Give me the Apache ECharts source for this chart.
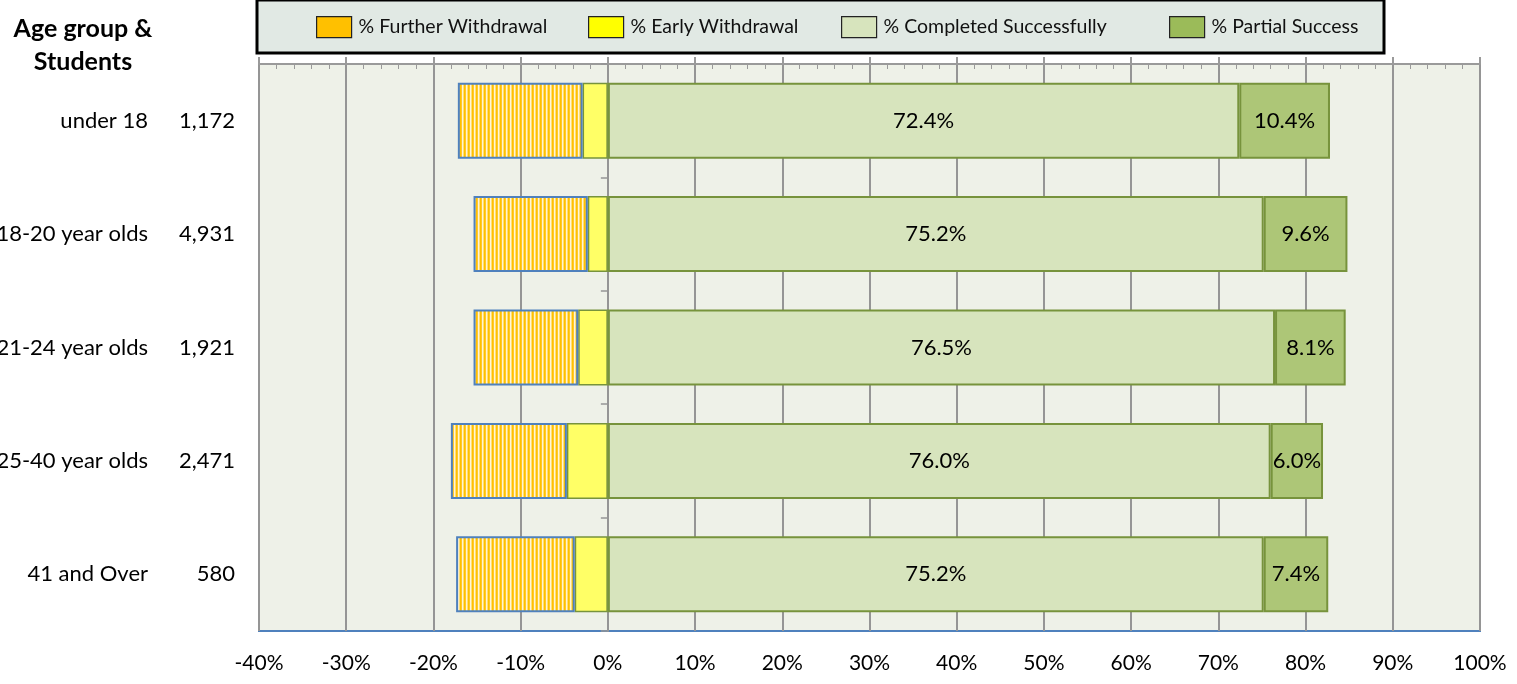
<!DOCTYPE html>
<html>
<head>
<meta charset="utf-8">
<script src="https://cdn.jsdelivr.net/npm/echarts@6/dist/echarts.min.js"></script>
<style>
  html, body { margin: 0; padding: 0; background: #fff; }
  #chart { width: 1517px; height: 684px; }
</style>
</head>
<body>
<div id="chart"></div>
<script>
const ageGroups = ['under 18', '18-20 year olds', '21-24 year olds', '25-40 year olds', '41 and Over']
const studentCounts = ['1,172', '4,931', '1,921', '2,471', '580']
const furtherWithdrawal = [-14.3, -13.1, -12.0, -13.3, -13.6]
const earlyWithdrawal = [-2.9, -2.3, -3.4, -4.7, -3.8]
const completedSuccessfully = [72.4, 75.2, 76.5, 76.0, 75.2]
const partialSuccess = [10.4, 9.6, 8.1, 6.0, 7.4]

const FONT = 'Lato, "Open Sans", sans-serif'

// striped fill for the further withdrawal bars
const stripe = document.createElement('canvas')
stripe.width = 4
stripe.height = 8
const sctx = stripe.getContext('2d')
;['#ffc000', '#ffc92e', '#fff4d6', '#ffdf73'].forEach((c, i) => {
  sctx.fillStyle = c
  sctx.fillRect(i, 0, 1, 8)
})

const myChart = echarts.init(document.getElementById('chart'))

const legendItem = (name, left, color) => ({
  left: left,
  top: 16,
  padding: 0,
  itemWidth: 35,
  itemHeight: 21,
  itemGap: 0,
  icon: 'rect',
  textStyle: { fontFamily: FONT, fontSize: 19.5, color: '#111', padding: [0, 0, 0, 2] },
  data: [{ name: name, itemStyle: { color: color, borderColor: '#222', borderWidth: 1.2, decal: null } }],
  selectedMode: false
})

const pctLabel = {
  show: true,
  position: 'inside',
  color: '#000',
  fontFamily: FONT,
  fontSize: 22,
  formatter: p => p.value.toFixed(1) + '%'
}

const options = {
  animation: false,
  graphic: [
    {
      type: 'rect',
      shape: { x: 257, y: 0, width: 1127, height: 53 },
      style: { fill: '#e1e9e4', stroke: '#000', lineWidth: 3 },
      z: -1
    },
    {
      type: 'text',
      x: 83,
      y: 12,
      style: {
        text: 'Age group &\nStudents',
        align: 'center',
        font: 'bold 25px ' + FONT,
        lineHeight: 33,
        fill: '#000'
      }
    }
  ],
  legend: [
    legendItem('% Further Withdrawal', 316, '#ffc000'),
    legendItem('% Early Withdrawal', 588, '#ffff00'),
    legendItem('% Completed Successfully', 841, '#d7e4bd'),
    legendItem('% Partial Success', 1169, '#9bbb59')
  ],
  grid: {
    left: 259,
    right: 37,
    top: 64,
    bottom: 53,
    outerBoundsMode: 'none',
    containLabel: false,
    show: true,
    backgroundColor: '#eef1e8',
    borderColor: '#4f81bd',
    borderWidth: 2
  },
  xAxis: [
    {
      type: 'value',
      position: 'bottom',
      min: -40,
      max: 100,
      interval: 10,
      axisLine: { show: false },
      axisTick: { show: false },
      axisLabel: { color: '#000', fontFamily: FONT, fontSize: 21, margin: 22, formatter: '{value}%' },
      splitLine: { show: true, lineStyle: { color: '#959595', width: 2 } }
    },
    {
      type: 'value',
      position: 'top',
      min: -40,
      max: 100,
      interval: 10,
      axisLine: { show: true, onZero: false, lineStyle: { color: '#9a9a9a', width: 2 } },
      axisTick: { show: true, length: 7, lineStyle: { color: '#9a9a9a', width: 2 } },
      axisLabel: { show: false },
      splitLine: { show: false }
    },
    {
      type: 'value',
      position: 'top',
      min: -40,
      max: 100,
      interval: 10,
      axisLine: { show: false, onZero: false },
      axisTick: { show: false, inside: true },
      minorTick: { show: true, splitNumber: 5, length: 5, lineStyle: { color: '#9a9a9a', width: 1 } },
      axisLabel: { show: false },
      splitLine: { show: false }
    }
  ],
  yAxis: [
    {
      type: 'category',
      inverse: true,
      data: ageGroups,
      axisLine: { show: false, onZero: false },
      axisTick: { show: false },
      axisLabel: {
        margin: 24,
        color: '#000',
        fontFamily: FONT,
        fontSize: 22,
        formatter: (v, i) => '{n|' + v + '}{c|' + studentCounts[i] + '}',
        rich: {
          n: { fontFamily: FONT, fontSize: 22, color: '#000' },
          c: { fontFamily: FONT, fontSize: 22, color: '#000', width: 87, align: 'right' }
        }
      }
    },
    {
      type: 'category',
      inverse: true,
      position: 'left',
      data: ageGroups,
      axisLine: { show: true, onZero: true, lineStyle: { color: '#959595', width: 2 } },
      axisTick: { show: true, length: 7, lineStyle: { color: '#959595', width: 1.5 } },
      axisLabel: { show: false }
    }
  ],
  series: [
    {
      name: '% Early Withdrawal',
      type: 'bar',
      stack: 'total',
      barWidth: '67%',
      data: earlyWithdrawal,
      itemStyle: { color: '#ffff66', borderColor: '#77933c', borderWidth: 1.5 }
    },
    {
      name: '% Further Withdrawal',
      type: 'bar',
      stack: 'total',
      barWidth: '67%',
      data: furtherWithdrawal,
      itemStyle: { color: { image: stripe, repeat: 'repeat' }, borderColor: '#4f81bd', borderWidth: 2 }
    },
    {
      name: '% Completed Successfully',
      type: 'bar',
      stack: 'total',
      barWidth: '67%',
      data: completedSuccessfully,
      itemStyle: { color: '#d7e4bd', borderColor: '#77933c', borderWidth: 2 },
      label: pctLabel
    },
    {
      name: '% Partial Success',
      type: 'bar',
      stack: 'total',
      barWidth: '67%',
      data: partialSuccess,
      itemStyle: { color: '#adc677', borderColor: '#77933c', borderWidth: 2 },
      label: pctLabel
    }
  ]
}

myChart.setOption(options)

window.addEventListener('resize', () => {
  myChart.resize()
})
</script>
</body>
</html>
